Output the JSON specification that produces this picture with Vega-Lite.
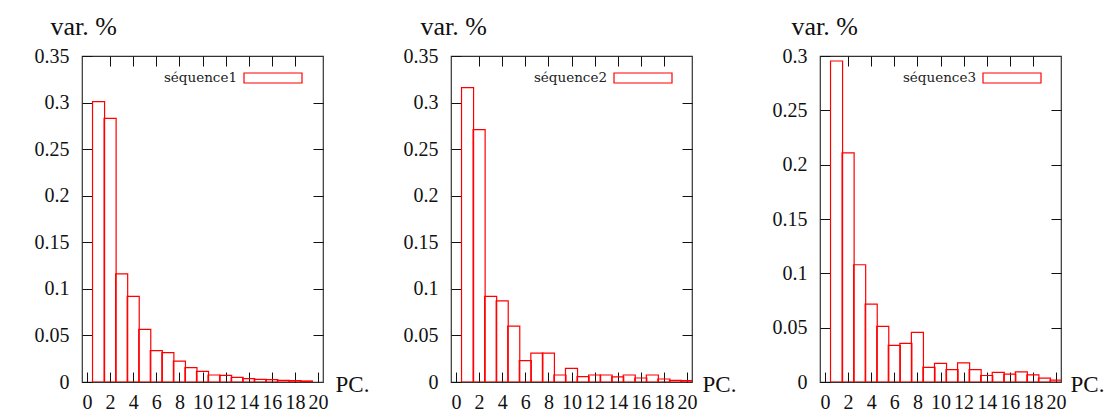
{
  "$schema": "https://vega.github.io/schema/vega-lite/v6.json",
  "background": "white",
  "padding": {"left": 33, "top": 12, "right": 0, "bottom": 0},
  "config": {
    "font": "Liberation Serif, Times New Roman, Times, serif",
    "view": {"stroke": "#333333", "strokeWidth": 1.2},
    "axis": {
      "domain": false,
      "grid": false,
      "labelFont": "Liberation Serif, Times New Roman, Times, serif",
      "labelFontSize": 20,
      "labelColor": "#111111",
      "tickColor": "#111111",
      "tickWidth": 1,
      "tickSize": -10,
      "labelOverlap": false,
      "labelFlush": false,
      "labelBound": false,
      "titleFont": "Liberation Serif, Times New Roman, Times, serif",
      "titleFontWeight": "normal",
      "titleColor": "#111111"
    },
    "legend": {
      "orient": "none",
      "labelFont": "DejaVu Serif",
      "labelFontSize": 13.5,
      "labelColor": "#222222",
      "labelAlign": "right",
      "labelBaseline": "middle",
      "labelOffset": -66,
      "labelLimit": 0,
      "padding": 0,
      "symbolType": "M-1,-0.172L1,-0.172L1,0.172L-1,0.172Z",
      "symbolSize": 3364,
      "symbolStrokeWidth": 1.2,
      "symbolFillColor": "white"
    }
  },
  "datasets": {
    "s1": [
      {"pc": 1, "var": 0.301, "serie": "séquence1"},
      {"pc": 2, "var": 0.283, "serie": "séquence1"},
      {"pc": 3, "var": 0.116, "serie": "séquence1"},
      {"pc": 4, "var": 0.092, "serie": "séquence1"},
      {"pc": 5, "var": 0.0565, "serie": "séquence1"},
      {"pc": 6, "var": 0.0336, "serie": "séquence1"},
      {"pc": 7, "var": 0.0315, "serie": "séquence1"},
      {"pc": 8, "var": 0.0225, "serie": "séquence1"},
      {"pc": 9, "var": 0.0154, "serie": "séquence1"},
      {"pc": 10, "var": 0.0114, "serie": "séquence1"},
      {"pc": 11, "var": 0.0075, "serie": "séquence1"},
      {"pc": 12, "var": 0.0072, "serie": "séquence1"},
      {"pc": 13, "var": 0.005, "serie": "séquence1"},
      {"pc": 14, "var": 0.0036, "serie": "séquence1"},
      {"pc": 15, "var": 0.0029, "serie": "séquence1"},
      {"pc": 16, "var": 0.0025, "serie": "séquence1"},
      {"pc": 17, "var": 0.0018, "serie": "séquence1"},
      {"pc": 18, "var": 0.0014, "serie": "séquence1"},
      {"pc": 19, "var": 0.0011, "serie": "séquence1"}
    ],
    "s2": [
      {"pc": 1, "var": 0.316, "serie": "séquence2"},
      {"pc": 2, "var": 0.271, "serie": "séquence2"},
      {"pc": 3, "var": 0.092, "serie": "séquence2"},
      {"pc": 4, "var": 0.087, "serie": "séquence2"},
      {"pc": 5, "var": 0.060, "serie": "séquence2"},
      {"pc": 6, "var": 0.023, "serie": "séquence2"},
      {"pc": 7, "var": 0.031, "serie": "séquence2"},
      {"pc": 8, "var": 0.031, "serie": "séquence2"},
      {"pc": 9, "var": 0.0075, "serie": "séquence2"},
      {"pc": 10, "var": 0.0147, "serie": "séquence2"},
      {"pc": 11, "var": 0.0057, "serie": "séquence2"},
      {"pc": 12, "var": 0.0075, "serie": "séquence2"},
      {"pc": 13, "var": 0.0075, "serie": "séquence2"},
      {"pc": 14, "var": 0.0054, "serie": "séquence2"},
      {"pc": 15, "var": 0.0075, "serie": "séquence2"},
      {"pc": 16, "var": 0.0043, "serie": "séquence2"},
      {"pc": 17, "var": 0.0075, "serie": "séquence2"},
      {"pc": 18, "var": 0.0032, "serie": "séquence2"},
      {"pc": 19, "var": 0.0018, "serie": "séquence2"},
      {"pc": 20, "var": 0.0015, "serie": "séquence2"}
    ],
    "s3": [
      {"pc": 1, "var": 0.2954, "serie": "séquence3"},
      {"pc": 2, "var": 0.2108, "serie": "séquence3"},
      {"pc": 3, "var": 0.1079, "serie": "séquence3"},
      {"pc": 4, "var": 0.0717, "serie": "séquence3"},
      {"pc": 5, "var": 0.0512, "serie": "séquence3"},
      {"pc": 6, "var": 0.0337, "serie": "séquence3"},
      {"pc": 7, "var": 0.0355, "serie": "séquence3"},
      {"pc": 8, "var": 0.0457, "serie": "séquence3"},
      {"pc": 9, "var": 0.0135, "serie": "séquence3"},
      {"pc": 10, "var": 0.0172, "serie": "séquence3"},
      {"pc": 11, "var": 0.0113, "serie": "séquence3"},
      {"pc": 12, "var": 0.0176, "serie": "séquence3"},
      {"pc": 13, "var": 0.0113, "serie": "séquence3"},
      {"pc": 14, "var": 0.006, "serie": "séquence3"},
      {"pc": 15, "var": 0.0088, "serie": "séquence3"},
      {"pc": 16, "var": 0.0073, "serie": "séquence3"},
      {"pc": 17, "var": 0.0093, "serie": "séquence3"},
      {"pc": 18, "var": 0.0065, "serie": "séquence3"},
      {"pc": 19, "var": 0.0036, "serie": "séquence3"},
      {"pc": 20, "var": 0.0017, "serie": "séquence3"}
    ]
  },
  "hconcat": [
    {
      "width": 241, "height": 326,
      "data": {"name": "s1"},
      "layer": [
        {
          "mark": {"type": "bar", "filled": false, "width": 12.05, "strokeWidth": 1.2, "clip": true},
          "encoding": {
            "x": {"field": "pc", "type": "quantitative", "scale": {"domain": [0, 20], "nice": false, "zero": false},
              "axis": {"orient": "bottom", "values": [0, 2, 4, 6, 8, 10, 12, 14, 16, 18, 20], "labelPadding": 36, "labelBaseline": "alphabetic",
                "title": "PC.", "titleAngle": 0, "titleX": 253, "titleY": 9, "titleAlign": "left", "titleBaseline": "alphabetic", "titleFontSize": 23}},
            "y": {"field": "var", "type": "quantitative", "scale": {"domain": [0, 0.35], "nice": false},
              "axis": {"orient": "left", "values": [0, 0.05, 0.1, 0.15, 0.2, 0.25, 0.3, 0.35], "format": "~g", "labelPadding": 23,
                "title": "var. %", "titleAngle": 0, "titleX": -32, "titleY": -22, "titleAlign": "left", "titleBaseline": "alphabetic", "titleFontSize": 26}},
            "stroke": {"field": "serie", "type": "nominal", "scale": {"range": ["#ff0000"]},
              "legend": {"title": null, "legendX": 161, "legendY": -8}}
          }
        },
        {
          "mark": {"type": "bar", "opacity": 0, "width": 12.05, "clip": true},
          "encoding": {
            "x": {"field": "pc", "type": "quantitative", "axis": {"orient": "top", "values": [2, 4, 6, 8, 10, 12, 14, 16, 18], "labels": false, "title": null}},
            "y": {"field": "var", "type": "quantitative", "axis": {"orient": "right", "values": [0.05, 0.1, 0.15, 0.2, 0.25, 0.3], "labels": false, "title": null}}
          }
        }
      ],
      "resolve": {"axis": {"x": "independent", "y": "independent"}}
    },
    {
      "width": 241, "height": 326,
      "data": {"name": "s2"},
      "layer": [
        {
          "mark": {"type": "bar", "filled": false, "width": 12.05, "strokeWidth": 1.2, "clip": true},
          "encoding": {
            "x": {"field": "pc", "type": "quantitative", "scale": {"domain": [0, 20], "nice": false, "zero": false},
              "axis": {"orient": "bottom", "values": [0, 2, 4, 6, 8, 10, 12, 14, 16, 18, 20], "labelPadding": 36, "labelBaseline": "alphabetic",
                "title": "PC.", "titleAngle": 0, "titleX": 251, "titleY": 9, "titleAlign": "left", "titleBaseline": "alphabetic", "titleFontSize": 23}},
            "y": {"field": "var", "type": "quantitative", "scale": {"domain": [0, 0.35], "nice": false},
              "axis": {"orient": "left", "values": [0, 0.05, 0.1, 0.15, 0.2, 0.25, 0.3, 0.35], "format": "~g", "labelPadding": 23,
                "title": "var. %", "titleAngle": 0, "titleX": -31, "titleY": -22, "titleAlign": "left", "titleBaseline": "alphabetic", "titleFontSize": 26}},
            "stroke": {"field": "serie", "type": "nominal", "scale": {"range": ["#ff0000"]},
              "legend": {"title": null, "legendX": 162, "legendY": -8}}
          }
        },
        {
          "mark": {"type": "bar", "opacity": 0, "width": 12.05, "clip": true},
          "encoding": {
            "x": {"field": "pc", "type": "quantitative", "axis": {"orient": "top", "values": [2, 4, 6, 8, 10, 12, 14, 16, 18], "labels": false, "title": null}},
            "y": {"field": "var", "type": "quantitative", "axis": {"orient": "right", "values": [0.05, 0.1, 0.15, 0.2, 0.25, 0.3], "labels": false, "title": null}}
          }
        }
      ],
      "resolve": {"axis": {"x": "independent", "y": "independent"}}
    },
    {
      "width": 241, "height": 326,
      "data": {"name": "s3"},
      "layer": [
        {
          "mark": {"type": "bar", "filled": false, "width": 12.05, "strokeWidth": 1.2, "clip": true},
          "encoding": {
            "x": {"field": "pc", "type": "quantitative", "scale": {"domain": [0, 20], "nice": false, "zero": false},
              "axis": {"orient": "bottom", "values": [0, 2, 4, 6, 8, 10, 12, 14, 16, 18, 20], "labelPadding": 36, "labelBaseline": "alphabetic",
                "title": "PC.", "titleAngle": 0, "titleX": 250, "titleY": 9, "titleAlign": "left", "titleBaseline": "alphabetic", "titleFontSize": 23}},
            "y": {"field": "var", "type": "quantitative", "scale": {"domain": [0, 0.3], "nice": false},
              "axis": {"orient": "left", "values": [0, 0.05, 0.1, 0.15, 0.2, 0.25, 0.3], "format": "~g", "labelPadding": 23,
                "title": "var. %", "titleAngle": 0, "titleX": -29, "titleY": -22, "titleAlign": "left", "titleBaseline": "alphabetic", "titleFontSize": 26}},
            "stroke": {"field": "serie", "type": "nominal", "scale": {"range": ["#ff0000"]},
              "legend": {"title": null, "legendX": 162, "legendY": -8}}
          }
        },
        {
          "mark": {"type": "bar", "opacity": 0, "width": 12.05, "clip": true},
          "encoding": {
            "x": {"field": "pc", "type": "quantitative", "axis": {"orient": "top", "values": [2, 4, 6, 8, 10, 12, 14, 16, 18], "labels": false, "title": null}},
            "y": {"field": "var", "type": "quantitative", "axis": {"orient": "right", "values": [0.05, 0.1, 0.15, 0.2, 0.25], "labels": false, "title": null}}
          }
        }
      ],
      "resolve": {"axis": {"x": "independent", "y": "independent"}}
    }
  ],
  "spacing": 128,
  "bounds": "flush",
  "resolve": {"scale": {"stroke": "independent"}, "legend": {"stroke": "independent"}}
}
